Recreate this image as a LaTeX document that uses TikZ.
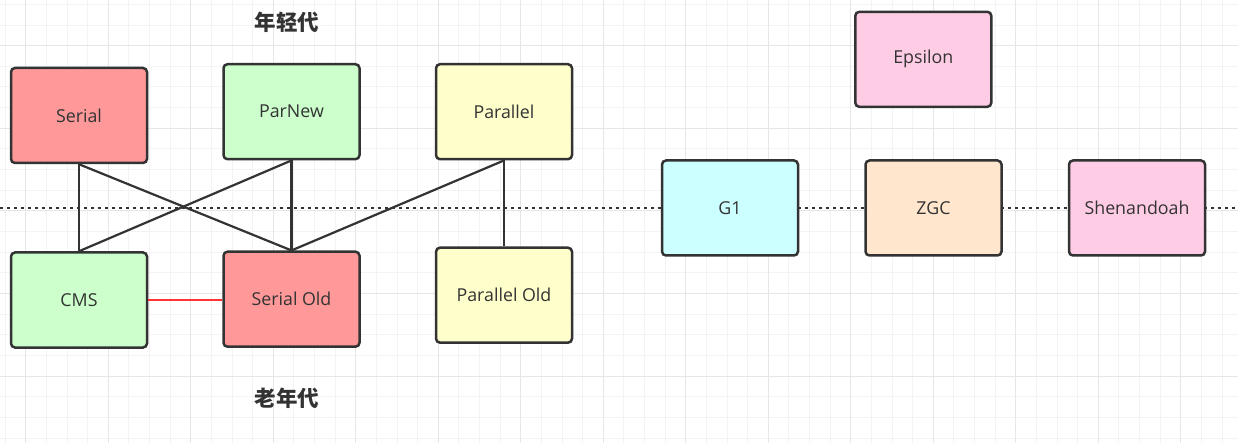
\documentclass[tikz,border=0pt]{standalone}
\usepackage{fontspec}
\setmainfont{Open Sans}
\newfontfamily\cjk{Noto Sans CJK SC}
\usetikzlibrary{positioning}
\pgfdeclarelayer{bg}
\pgfsetlayers{bg,main}
\definecolor{ink}{HTML}{333333}
\definecolor{salmon}{HTML}{FF9999}
\definecolor{mint}{HTML}{CCFFCC}
\definecolor{cream}{HTML}{FFFFCC}
\definecolor{aqua}{HTML}{CCFFFF}
\definecolor{peach}{HTML}{FFE6CC}
\definecolor{blush}{HTML}{FFCCE6}
\definecolor{redline}{HTML}{FF3333}
\definecolor{gridminor}{HTML}{F3F3F3}
\definecolor{gridmajor}{HTML}{E6E6E6}

\begin{document}
\begin{tikzpicture}[
  x=1pt, y=-1pt,
  node distance=74pt,
  font=\fontsize{17.8}{21}\selectfont,
  box/.style={draw=ink, line width=2.5pt, rounded corners=4pt, text=ink,
    minimum width=136pt, minimum height=95pt, inner sep=0pt},
  link/.style={draw=ink, line width=2.2pt},
  dots/.style={draw=ink, line width=2.8pt, dash pattern=on 2.8pt off 4.2pt},
  gen/.style={font=\cjk\bfseries\fontsize{21.5}{25}\selectfont, text=ink}
]
\useasboundingbox (0,0) rectangle (1238,443);

% young generation
\node[box, fill=salmon] (serial) at (79,115.5) {Serial};
\node[box, fill=mint] (parnew) at (291.5,111.7) {ParNew};
\node[box, fill=cream, right=74pt of parnew] (parallel) {Parallel};

% old generation
\node[box, fill=mint, below=87pt of serial] (cms) {CMS};
\node[box, fill=salmon, below=90pt of parnew] (serialold) {Serial Old};
\node[box, fill=cream, below=86pt of parallel] (parallelold) {Parallel Old};

% whole heap
\node[box, fill=aqua] (gone) at (730,208) {G1};
\node[box, fill=peach] (zgc) at (933.5,208) {ZGC};
\node[box, fill=blush] (shenandoah) at (1137,208) {Shenandoah};
\node[box, fill=blush] (epsilon) at (923.3,59.3) {Epsilon};

\node[gen] (young) at (287,22) {年轻代};
\node[gen] (old) at (287,398) {老年代};

\draw[link] (serial.south) -- (cms.north);
\draw[link] (serial.south) -- (serialold.north);
\draw[link] (parnew.south) -- (cms.north);
\draw[link] (parnew.south) -- (serialold.north);
\draw[link] (parallel.south) -- (serialold.north);
\draw[link] (parallel.south) -- (parallelold.north);
\draw[link, draw=redline] (cms.east) -- (cms.east -| serialold.west);

\coordinate (lend) at (0,208);
\coordinate (rend) at (1238,208);

\begin{pgfonlayer}{bg}
  \fill[white] (0,0) rectangle (1238,443);
  \foreach \gx in {5.2,25.825,...,1238}
    \draw[gridminor, line width=1pt] (\gx,0) -- (\gx,443);
  \foreach \gy in {4.4,25.05,...,443}
    \draw[gridminor, line width=1pt] (0,\gy) -- (1238,\gy);
  \foreach \gx in {25.8,108.3,...,1238}
    \draw[gridmajor, line width=1pt] (\gx,0) -- (\gx,443);
  \foreach \gy in {45.7,128.3,...,443}
    \draw[gridmajor, line width=1pt] (0,\gy) -- (1238,\gy);
  \draw[dots] (lend) -- (rend);
\end{pgfonlayer}
\end{tikzpicture}
\end{document}
